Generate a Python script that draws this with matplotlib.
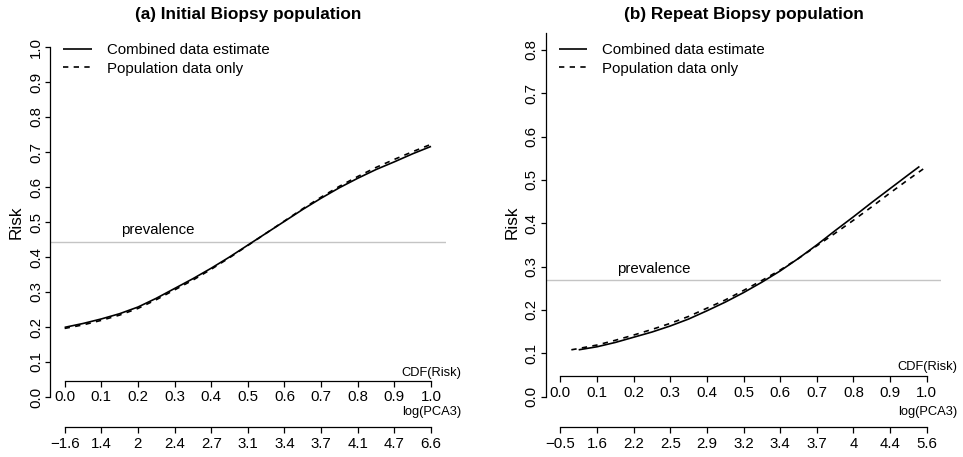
import matplotlib
matplotlib.use("Agg")
import matplotlib.pyplot as plt

plt.rcParams['font.family'] = ['Liberation Sans', 'DejaVu Sans']

# ---------------- data ----------------
cdf_ticks = [0.0, 0.1, 0.2, 0.3, 0.4, 0.5, 0.6, 0.7, 0.8, 0.9, 1.0]
cdf_labels = ["0.0", "0.1", "0.2", "0.3", "0.4", "0.5", "0.6", "0.7", "0.8", "0.9", "1.0"]

# (a) Initial biopsy
a_title = "(a) Initial Biopsy population"
a_log_labels = ["\u22121.6", "1.4", "2", "2.4", "2.7", "3.1", "3.4", "3.7", "4.1", "4.7", "6.6"]
a_yticks = [0.0, 0.1, 0.2, 0.3, 0.4, 0.5, 0.6, 0.7, 0.8, 0.9, 1.0]
a_prevalence = 0.443
a_comb_x = [0.00, 0.05, 0.10, 0.15, 0.20, 0.25, 0.30, 0.35, 0.40, 0.45, 0.50,
            0.55, 0.60, 0.65, 0.70, 0.75, 0.80, 0.85, 0.90, 0.95, 1.00]
a_comb_y = [0.199, 0.210, 0.223, 0.238, 0.257, 0.282, 0.310, 0.338, 0.368, 0.400, 0.434,
            0.468, 0.502, 0.536, 0.568, 0.598, 0.625, 0.650, 0.672, 0.695, 0.716]
a_pop_x = [0.00, 0.05, 0.10, 0.15, 0.20, 0.25, 0.30, 0.35, 0.40, 0.45, 0.50,
           0.55, 0.60, 0.65, 0.70, 0.75, 0.80, 0.85, 0.90, 0.95, 1.00]
a_pop_y = [0.196, 0.206, 0.219, 0.234, 0.253, 0.278, 0.306, 0.334, 0.365, 0.398, 0.433,
           0.468, 0.503, 0.538, 0.571, 0.602, 0.630, 0.656, 0.679, 0.701, 0.722]

# (b) Repeat biopsy
b_title = "(b) Repeat Biopsy population"
b_log_labels = ["\u22120.5", "1.6", "2.2", "2.5", "2.9", "3.2", "3.4", "3.7", "4", "4.4", "5.6"]
b_yticks = [0.0, 0.1, 0.2, 0.3, 0.4, 0.5, 0.6, 0.7, 0.8]
b_prevalence = 0.269
b_comb_x = [0.05, 0.10, 0.15, 0.20, 0.25, 0.30, 0.35, 0.40, 0.45, 0.50,
            0.55, 0.60, 0.65, 0.70, 0.75, 0.80, 0.85, 0.90, 0.95, 0.98]
b_comb_y = [0.108, 0.115, 0.125, 0.137, 0.149, 0.163, 0.179, 0.198, 0.218, 0.240,
            0.264, 0.290, 0.319, 0.350, 0.383, 0.415, 0.448, 0.480, 0.512, 0.531]
b_pop_x = [0.03, 0.05, 0.10, 0.15, 0.20, 0.25, 0.30, 0.35, 0.40, 0.45, 0.50,
           0.55, 0.60, 0.65, 0.70, 0.75, 0.80, 0.85, 0.90, 0.95, 1.00]
b_pop_y = [0.108, 0.111, 0.119, 0.130, 0.142, 0.155, 0.169, 0.185, 0.204, 0.223, 0.245,
           0.268, 0.292, 0.319, 0.348, 0.377, 0.407, 0.438, 0.470, 0.501, 0.531]

legend_labels = ["Combined data estimate", "Population data only"]

# ---------------- figure ----------------
W, H = 963, 457
fig = plt.figure(figsize=(W / 100, H / 100), dpi=100)

FS = 10.8
FS_AXNAME = 9.3
panels = [
    dict(left=50, title=a_title, ylim=(-0.04, 1.04), ybound=(0, 1.0), yticks=a_yticks,
         prev=a_prevalence, cx=a_comb_x, cy=a_comb_y, px=a_pop_x, py=a_pop_y,
         loglab=a_log_labels, cdf_name_y=372.7),
    dict(left=545.7, title=b_title, ylim=(-0.0332, 0.839), ybound=(0, 0.84), yticks=b_yticks,
         prev=b_prevalence, cx=b_comb_x, cy=b_comb_y, px=b_pop_x, py=b_pop_y,
         loglab=b_log_labels, cdf_name_y=366.7),
]

ax_w, ax_top, ax_bot = 395.7, 33, 411
ax_h = ax_bot - ax_top
for p in panels:
    ax = fig.add_axes([p['left'] / W, (H - ax_bot) / H, ax_w / W, ax_h / H])
    ax.set_xlim(-0.04, 1.04)
    ax.set_ylim(*p['ylim'])

    ax.axhline(p['prev'], color='#c4c4c4', lw=1.0, zorder=1)
    ax.annotate("prevalence", xy=(0.255, p['prev']), xytext=(0, 8.3), textcoords='offset points',
                ha='center', va='center', fontsize=FS)

    l1, = ax.plot(p['cx'], p['cy'], color='black', lw=1.2, solid_capstyle='butt')
    l2, = ax.plot(p['px'], p['py'], color='black', lw=1.2, linestyle=(0, (3.2, 3.2)))

    ax.legend([l1, l2], legend_labels, loc='upper left', bbox_to_anchor=(0.033, 0.973),
              frameon=False, fontsize=FS, handlelength=1.9, handletextpad=1.0,
              labelspacing=0.29, borderaxespad=0.0, borderpad=0.0)

    for s in ('top', 'right'):
        ax.spines[s].set_visible(False)
    ax.spines['left'].set_bounds(*p['ybound'])
    ax.spines['left'].set_linewidth(0.9)
    ax.spines['bottom'].set_position(('data', 0.047))
    ax.spines['bottom'].set_bounds(0, 1)
    ax.spines['bottom'].set_linewidth(0.9)

    ax.set_yticks(p['yticks'])
    ax.set_yticklabels([f"{v:.1f}" for v in p['yticks']])
    ax.tick_params(axis='y', labelrotation=90, length=3.5, width=0.9, pad=1.5, labelsize=FS)
    for t in ax.get_yticklabels():
        t.set_va('center')

    ax.set_xticks(cdf_ticks)
    ax.set_xticklabels(cdf_labels)
    ax.tick_params(axis='x', length=4, width=0.9, pad=3, labelsize=FS)

    sec = ax.secondary_xaxis(-0.0423)
    sec.set_xticks(cdf_ticks)
    sec.set_xticklabels(p['loglab'])
    sec.tick_params(axis='x', length=4, width=0.9, pad=3, labelsize=FS)
    sec.spines['bottom'].set_bounds(0, 1)
    sec.spines['bottom'].set_linewidth(0.9)

    ax.set_ylabel("Risk", fontsize=12.3)
    ax.yaxis.set_label_coords(-0.066, 0.5)

    ax.text(1.04, (ax_bot - p['cdf_name_y']) / ax_h, "CDF(Risk)", transform=ax.transAxes,
            ha='right', va='center', fontsize=FS_AXNAME)
    ax.text(1.04, (ax_bot - 412.5) / ax_h, "log(PCA3)", transform=ax.transAxes,
            ha='right', va='center', fontsize=FS_AXNAME)

    ax.set_title(p['title'], fontsize=12.4, fontweight='bold', pad=0,
                 y=(ax_bot - 14.0) / ax_h, va='center')

fig.savefig("out.png", dpi=100)
